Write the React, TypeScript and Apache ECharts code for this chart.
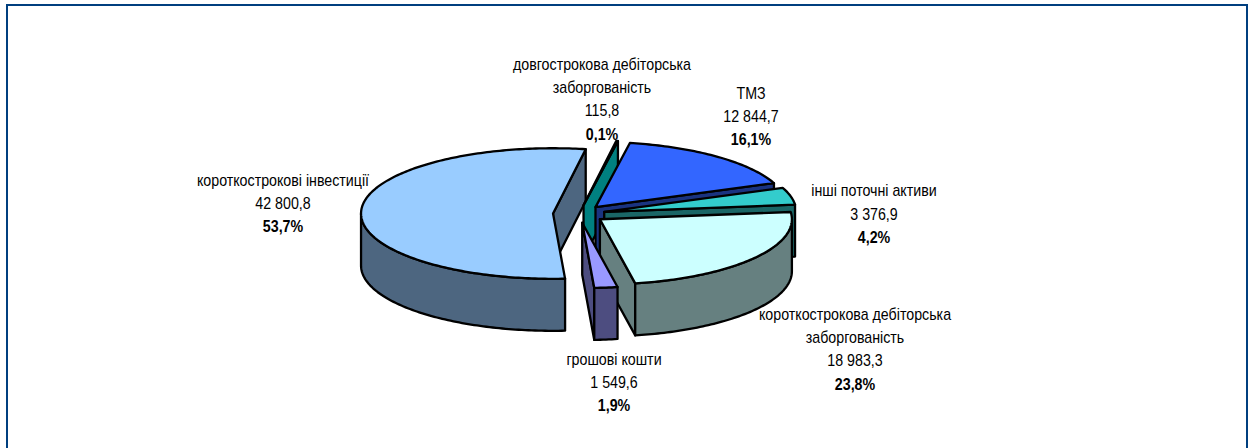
import React, { useEffect, useRef } from "react";
import * as echarts from "echarts";

const sliceValues = [42800.8, 115.8, 12844.7, 3376.9, 18983.3, 1549.6];
const topColors = ["#99CCFF", "#00A0A0", "#3366FF", "#33CCCC", "#CCFFFF", "#9999FF"];
const sideColors = ["#4D6680", "#008080", "#1A3380", "#1A6666", "#668080", "#4D4D80"];

const nameLines = [
  ["короткострокові інвестиції"],
  ["довгострокова дебіторська", "заборгованість"],
  ["ТМЗ"],
  ["інші поточні активи"],
  ["короткострокова дебіторська", "заборгованість"],
  ["грошові кошти"],
];
const valueLabels = ["42 800,8", "115,8", "12 844,7", "3 376,9", "18 983,3", "1 549,6"];
const percentLabels = ["53,7%", "0,1%", "16,1%", "4,2%", "23,8%", "1,9%"];
const labelCenterX = [283, 602, 751, 874, 855, 614];
const labelFirstY = [180, 64, 93, 190.5, 314, 359];

const FIRST_ANGLE = 176.4;
const CX = 579;
const CY = 214;
const RX = 192;
const TILT = 0.34;
const DEPTH = 52;
const EXPLODE = 26;
const LINE_GAP = 23.3;

const total = sliceValues.reduce((a, b) => a + b, 0);
const rad = (d: number) => (d * Math.PI) / 180;

function arcPoints(cx: number, cy: number, a0: number, a1: number, dy: number) {
  const n = Math.max(1, Math.ceil(Math.abs(a1 - a0)));
  const pts: number[][] = [];
  for (let i = 0; i <= n; i++) {
    const a = rad(a0 + ((a1 - a0) * i) / n);
    pts.push([cx + RX * Math.sin(a), cy - RX * TILT * Math.cos(a) + dy]);
  }
  return pts;
}

function face(points: number[][], fill: string) {
  return {
    type: "polygon",
    shape: { points },
    style: { fill, stroke: "#000000", lineWidth: 2.3, lineJoin: "round" },
  };
}

function renderSlice(params: any, api: any) {
  const idx = params.dataIndex;
  let start = FIRST_ANGLE;
  for (let i = 0; i < idx; i++) start += (sliceValues[i] / total) * 360;
  if (start >= 360) start -= 360;
  const end = start + (api.value(0) / total) * 360;
  const mid = rad((start + end) / 2);
  const cx = CX + EXPLODE * Math.sin(mid);
  const cy = CY - EXPLODE * TILT * Math.cos(mid);
  const children: any[] = [];
  const side = sideColors[idx];

  const radial = (a: number) => {
    const [p] = arcPoints(cx, cy, a, a, 0);
    return [
      [cx, cy],
      p,
      [p[0], p[1] + DEPTH],
      [cx, cy + DEPTH],
    ];
  };
  if (Math.sin(rad(start)) < 0) children.push(face(radial(start), side));
  if (Math.sin(rad(end)) > 0) children.push(face(radial(end), side));

  const r0 = Math.max(start, 90);
  const r1 = Math.min(end, 270);
  if (r1 > r0) {
    const upper = arcPoints(cx, cy, r0, r1, 0);
    const lower = arcPoints(cx, cy, r1, r0, DEPTH);
    children.push(face(upper.concat(lower), side));
  }
  children.push(face([[cx, cy]].concat(arcPoints(cx, cy, start, end, 0)), topColors[idx]));
  return { type: "group", children };
}

function labelGraphics() {
  const out: any[] = [];
  sliceValues.forEach((_, i) => {
    const lines = [...nameLines[i], valueLabels[i], percentLabels[i]];
    lines.forEach((text, j) => {
      const bold = j === lines.length - 1;
      out.push({
        type: "text",
        x: labelCenterX[i],
        y: labelFirstY[i] + j * LINE_GAP,
        scaleX: 0.89,
        style: {
          text,
          fill: "#000000",
          font: `${bold ? "bold " : ""}16px "Liberation Sans", Arial, sans-serif`,
          textAlign: "center",
          textVerticalAlign: "middle",
        },
      });
    });
  });
  return out;
}

export default function App() {
  const ref = useRef<HTMLDivElement>(null);
  useEffect(() => {
    const chart = echarts.init(ref.current!, undefined, { renderer: "svg" });
    chart.setOption({
      animation: false,
      backgroundColor: "#FFFFFF",
      graphic: [
        {
          type: "rect",
          shape: { x: 7, y: 5, width: 1240, height: 470 },
          style: { fill: "none", stroke: "#003F7F", lineWidth: 2 },
          z: 1,
        },
        ...labelGraphics(),
      ],
      series: [
        {
          type: "custom",
          coordinateSystem: "none",
          silent: true,
          clip: false,
          renderItem: renderSlice,
          data: sliceValues.map((v) => [v]),
        },
      ],
    });
    return () => chart.dispose();
  }, []);
  return (
    <div
      ref={ref}
      style={{ position: "fixed", left: 0, top: 0, width: 1248, height: 448 }}
    />
  );
}
